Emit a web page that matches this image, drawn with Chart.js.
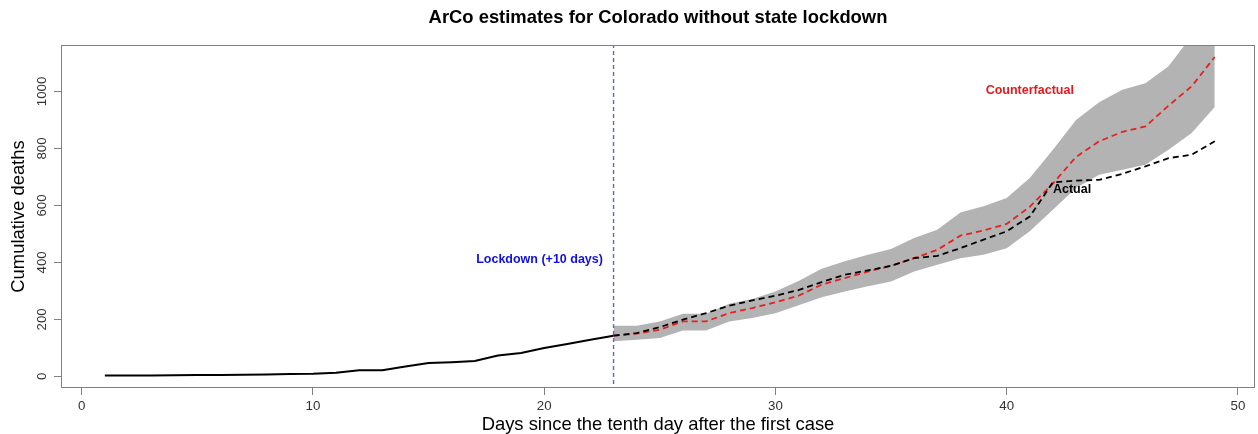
<!DOCTYPE html>
<html><head><meta charset="utf-8">
<script src="https://cdn.jsdelivr.net/npm/chart.js@4.4.0/dist/chart.umd.min.js"></script>
<style>html,body{margin:0;padding:0;background:#fff}#wrap{width:1258px;height:434px}</style>
</head><body><div id="wrap"><canvas id="c" width="1258" height="434"></canvas></div>
<script>
const chartTitle = "ArCo estimates for Colorado without state lockdown";
const xAxisTitle = "Days since the tenth day after the first case";
const yAxisTitle = "Cumulative deaths";
const xTicks = [0, 10, 20, 30, 40, 50];
const yTicks = [0, 200, 400, 600, 800, 1000];

const preDays = [1,2,3,4,5,6,7,8,9,10,11,12,13,14,15,16,17,18,19,20,21,22,23];
const preDeaths = [3,3,3,4,5,5,6,7,8,9,13,22,22,35,47,50,54,73,82,100,114,129,143];

const postDays = [23,24,25,26,27,28,29,30,31,32,33,34,35,36,37,38,39,40,41,42,43,44,45,46,47,48,49];
const actualDeaths = [143,152,173,199,222,248,267,283,303,331,357,372,388,415,423,450,480,509,561,681,687,690,711,737,766,778,825];
const counterfactual = [143,150,164,193,193,222,240,260,283,322,345,368,388,415,444,494,512,535,595,677,770,825,858,877,950,1018,1121];
const bandUpper = [178,178,193,220,220,255,272,298,335,378,404,427,447,486,515,575,597,626,696,795,900,962,1006,1029,1088,1195,1290];
const bandLower = [123,129,135,161,161,193,205,222,250,278,298,316,333,368,392,415,427,450,509,585,661,708,725,743,795,854,945];

const lockdownDay = 23;
const noteTexts = ["Counterfactual", "Actual", "Lockdown (+10 days)"];

const FONT = '"Liberation Sans", Arial, Helvetica, sans-serif';
const pts = (xs, ys) => xs.map((d, i) => ({x: d, y: ys[i]}));

const decor = {
  id: 'decor',
  afterDraw(chart) {
    const {ctx, chartArea: a, scales: {x, y}} = chart;
    ctx.save();
    // plot box
    ctx.strokeStyle = '#808080';
    ctx.lineWidth = 1;
    const L = Math.round(a.left) + 0.5, T = Math.round(a.top) + 0.5;
    const R = Math.round(a.right) - 0.5, B = Math.round(a.bottom) - 0.5;
    ctx.strokeRect(L, T, R - L, B - T);
    // main title
    ctx.fillStyle = '#000';
    ctx.font = 'bold 18.4px ' + FONT;
    ctx.textAlign = 'center';
    ctx.textBaseline = 'middle';
    ctx.fillText(chartTitle, (a.left + a.right) / 2, 18);
    // y tick labels (rotated, parallel to axis)
    ctx.font = '13.3px ' + FONT;
    ctx.fillStyle = '#333';
    yTicks.forEach(v => {
      const py = y.getPixelForValue(v);
      ctx.save();
      ctx.translate(42.7, py);
      ctx.rotate(-Math.PI / 2);
      ctx.fillText(String(v), 0, 0);
      ctx.restore();
    });
    // text notes
    ctx.font = 'bold 12.5px ' + FONT;
    ctx.fillStyle = '#e41a1c';
    ctx.textAlign = 'center';
    ctx.fillText(noteTexts[0], x.getPixelForValue(41), y.getPixelForValue(1003));
    ctx.fillStyle = '#000';
    ctx.textAlign = 'left';
    ctx.fillText(noteTexts[1], x.getPixelForValue(42), y.getPixelForValue(655));
    ctx.fillStyle = '#1010e0';
    ctx.textAlign = 'center';
    ctx.fillText(noteTexts[2], x.getPixelForValue(19.8), y.getPixelForValue(410));
    ctx.restore();
  }
};

new Chart(document.getElementById('c'), {
  type: 'line',
  data: {
    datasets: [
      { // lockdown vertical line
        data: [{x: lockdownDay, y: -100}, {x: lockdownDay, y: 3000}],
        borderColor: 'rgba(70,70,215,0.85)', borderWidth: 1.4, borderDash: [4, 3],
        pointRadius: 0, fill: false, tension: 0
      },
      { // actual post
        data: pts(postDays, actualDeaths),
        borderColor: '#000', borderWidth: 1.8, borderDash: [6, 4],
        pointRadius: 0, fill: false, tension: 0
      },
      { // counterfactual
        data: pts(postDays, counterfactual),
        borderColor: '#e8201f', borderWidth: 1.8, borderDash: [6, 4],
        pointRadius: 0, fill: false, tension: 0
      },
      { // actual pre
        data: pts(preDays, preDeaths),
        borderColor: '#000', borderWidth: 2,
        pointRadius: 0, fill: false, tension: 0
      },
      { // band upper
        data: pts(postDays, bandUpper),
        borderColor: 'rgba(0,0,0,0)', borderWidth: 0,
        pointRadius: 0, fill: false, tension: 0
      },
      { // band lower
        data: pts(postDays, bandLower),
        borderColor: 'rgba(0,0,0,0)', borderWidth: 0,
        backgroundColor: '#b3b3b3',
        pointRadius: 0, fill: '-1', tension: 0
      }
    ]
  },
  options: {
    responsive: false,
    animation: false,
    devicePixelRatio: 1,
    layout: { padding: { left: 0, right: 3, top: 45, bottom: 0 } },
    plugins: { legend: { display: false }, tooltip: { enabled: false }, title: { display: false } },
    scales: {
      x: {
        type: 'linear', min: -0.895, max: 50.74,
        afterBuildTicks: s => { s.ticks = xTicks.map(v => ({value: v})); },
        afterFit: s => { s.height = 46; },
        ticks: { font: { family: FONT, size: 13.3 }, color: '#333', padding: 3, maxRotation: 0 },
        grid: { drawOnChartArea: false, drawTicks: true, tickLength: 7, color: '#808080' },
        border: { display: false },
        title: { display: true, text: xAxisTitle, color: '#000',
                 font: { family: FONT, size: 18.4, lineHeight: 1 }, padding: { top: 0, bottom: 0 } }
      },
      y: {
        type: 'linear', min: -40.7, max: 1163,
        afterBuildTicks: s => { s.ticks = yTicks.map(v => ({value: v})); },
        afterFit: s => { s.width = 61; },
        ticks: { display: false },
        grid: { drawOnChartArea: false, drawTicks: true, tickLength: 7, color: '#808080' },
        border: { display: false },
        title: { display: true, text: yAxisTitle, color: '#000',
                 font: { family: FONT, size: 18.4, lineHeight: 1 }, padding: { top: 10, bottom: 0 } }
      }
    }
  },
  plugins: [decor]
});
</script></body></html>
